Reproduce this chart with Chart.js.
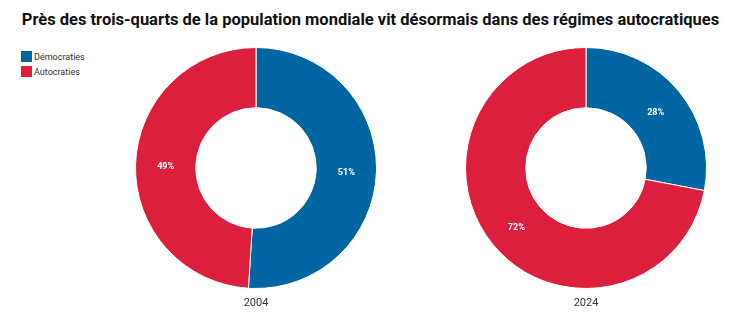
<!DOCTYPE html>
<html>
<head>
<meta charset="utf-8">
<script src="https://cdn.jsdelivr.net/npm/chart.js@4.4.1/dist/chart.umd.min.js"></script>
<style>
  body { margin: 0; background: #fff; font-family: Roboto, sans-serif; }
  #wrap { position: relative; width: 741px; height: 330px; overflow: hidden; }
  h1 { position: absolute; left: 0; top: 8px; width: 741px; margin: 0; text-align: center;
       font-size: 16.5px; font-weight: 700; color: #111; line-height: 24px; }
  #legend { position: absolute; left: 21px; top: 51px; font-size: 9px; color: #333; }
  #legend div { height: 15px; line-height: 12px; }
  #legend span { display: inline-block; width: 11px; height: 11px; vertical-align: top; margin-right: 2px; }
  .pie { position: absolute; top: 47px; width: 242px; height: 270px; }
</style>
</head>
<body>
<div id="wrap">
  <h1>Près des trois-quarts de la population mondiale vit désormais dans des régimes autocratiques</h1>
  <div id="legend"></div>
  <div class="pie" style="left:135px"><canvas id="pie2004"></canvas></div>
  <div class="pie" style="left:465px"><canvas id="pie2024"></canvas></div>
</div>
<script>
const categories = ['Démocraties', 'Autocraties'];
const colors = ['#0066a1', '#dc1f3c'];
const years = ['2004', '2024'];
const values2004 = [51, 49];
const values2024 = [28, 72];

// legend
const legend = document.getElementById('legend');
categories.forEach((c, i) => {
    const row = document.createElement('div');
    row.innerHTML = `<span style="background:${colors[i]}"></span>${c}`;
    legend.appendChild(row);
});

// percentage labels in the middle of each ring segment, year label below
const ringLabels = {
    id: 'ringLabels',
    afterDatasetsDraw(chart, args, opts) {
        const ctx = chart.ctx;
        const meta = chart.getDatasetMeta(0);
        ctx.save();
        ctx.font = 'bold 9px Roboto';
        ctx.fillStyle = '#fff';
        ctx.textAlign = 'center';
        ctx.textBaseline = 'middle';
        meta.data.forEach((arc, i) => {
            const p = arc.tooltipPosition();
            ctx.fillText(chart.data.datasets[0].data[i] + '%', p.x, p.y + 2);
        });
        ctx.font = '11px Roboto';
        ctx.fillStyle = '#333';
        ctx.fillText(opts.year, (chart.chartArea.left + chart.chartArea.right) / 2, chart.chartArea.bottom + 14);
        ctx.restore();
    }
};

function makePie(id, values, year) {
    return new Chart(document.getElementById(id), {
        type: 'doughnut',
        data: {
            labels: categories,
            datasets: [{
                data: values,
                backgroundColor: colors,
                borderColor: '#fff',
                borderWidth: 1
            }]
        },
        options: {
            responsive: true,
            maintainAspectRatio: false,
            animation: false,
            cutout: '50%',
            layout: { padding: { bottom: 28 } },
            plugins: {
                legend: { display: false },
                tooltip: { enabled: false },
                ringLabels: { year: year }
            }
        },
        plugins: [ringLabels]
    });
}

makePie('pie2004', values2004, years[0]);
makePie('pie2024', values2024, years[1]);
</script>
</body>
</html>
